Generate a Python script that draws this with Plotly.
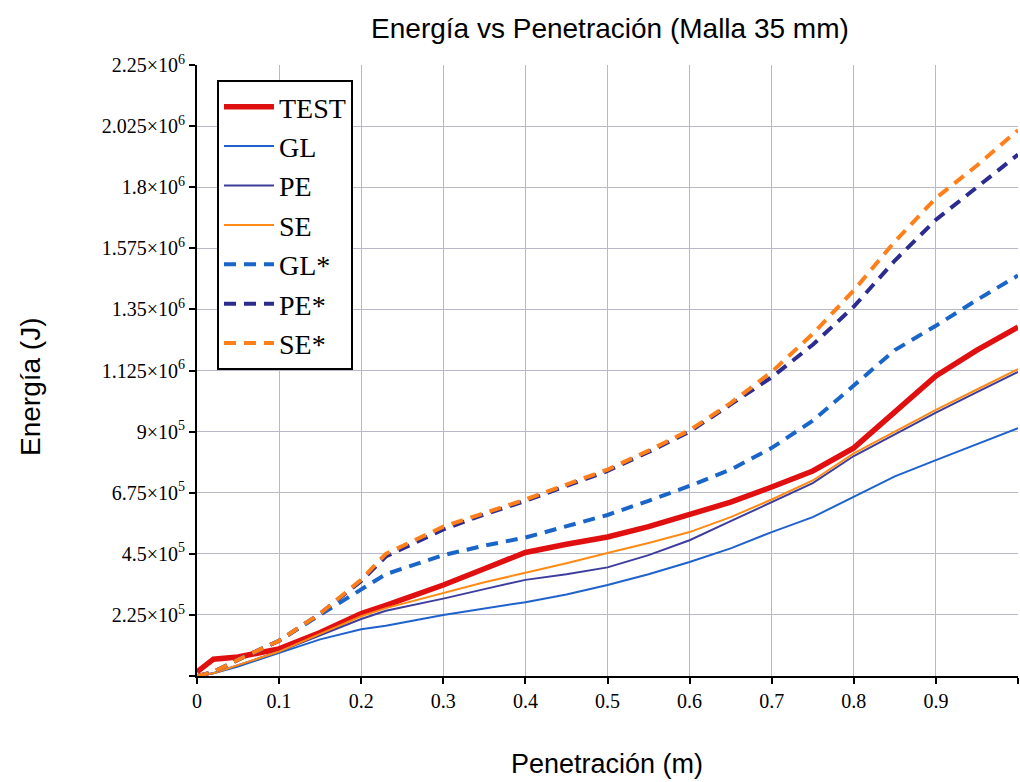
import plotly.graph_objects as go

# Shared penetration values (m)
penetracion = [0, 0.02, 0.05, 0.1, 0.15, 0.2, 0.23, 0.3, 0.35, 0.4, 0.45, 0.5,
               0.55, 0.6, 0.65, 0.7, 0.75, 0.8, 0.85, 0.9, 0.95, 1.0]

# Energy values (J)
test = [1.5e4, 6.2e4, 7.0e4, 1.0e5, 1.6e5, 2.3e5, 2.6e5, 3.35e5, 3.95e5, 4.55e5, 4.85e5, 5.12e5,
        5.5e5, 5.93e5, 6.4e5, 6.96e5, 7.55e5, 8.4e5, 9.75e5, 1.105e6, 1.2e6, 1.285e6]
gl = [0, 1e4, 3.5e4, 8.5e4, 1.35e5, 1.72e5, 1.85e5, 2.25e5, 2.48e5, 2.72e5, 3.0e5, 3.35e5,
      3.75e5, 4.2e5, 4.7e5, 5.3e5, 5.85e5, 6.6e5, 7.35e5, 7.95e5, 8.55e5, 9.13e5]
pe = [0, 1e4, 4e4, 9e4, 1.5e5, 2.1e5, 2.4e5, 2.85e5, 3.2e5, 3.54e5, 3.75e5, 4.0e5,
      4.45e5, 5.0e5, 5.7e5, 6.4e5, 7.1e5, 8.1e5, 8.9e5, 9.7e5, 1.045e6, 1.12e6]
se = [0, 1e4, 4e4, 9e4, 1.55e5, 2.2e5, 2.5e5, 3.05e5, 3.45e5, 3.8e5, 4.15e5, 4.53e5,
      4.9e5, 5.3e5, 5.85e5, 6.5e5, 7.2e5, 8.2e5, 9.0e5, 9.8e5, 1.055e6, 1.13e6]
gl_s = [0, 1.5e4, 6e4, 1.3e5, 2.25e5, 3.2e5, 3.75e5, 4.45e5, 4.8e5, 5.1e5, 5.5e5, 5.93e5,
        6.45e5, 7.0e5, 7.6e5, 8.4e5, 9.4e5, 1.07e6, 1.2e6, 1.29e6, 1.385e6, 1.475e6]
pe_s = [0, 1.5e4, 6e4, 1.3e5, 2.3e5, 3.5e5, 4.4e5, 5.4e5, 5.95e5, 6.45e5, 7.0e5, 7.55e5,
        8.25e5, 9.0e5, 1.0e6, 1.1e6, 1.22e6, 1.36e6, 1.53e6, 1.68e6, 1.8e6, 1.92e6]
se_s = [0, 1.5e4, 6e4, 1.3e5, 2.3e5, 3.55e5, 4.5e5, 5.5e5, 6.0e5, 6.5e5, 7.05e5, 7.6e5,
        8.3e5, 9.05e5, 1.005e6, 1.12e6, 1.26e6, 1.42e6, 1.6e6, 1.76e6, 1.88e6, 2.01e6]

x_tickvals = [0, 0.1, 0.2, 0.3, 0.4, 0.5, 0.6, 0.7, 0.8, 0.9, 1.0]
x_ticktext = ["0", "0.1", "0.2", "0.3", "0.4", "0.5", "0.6", "0.7", "0.8", "0.9", ""]
y_tickvals = [0, 2.25e5, 4.5e5, 6.75e5, 9e5, 1.125e6, 1.35e6, 1.575e6, 1.8e6, 2.025e6, 2.25e6]
y_ticktext = ["", "2.25×10<sup>5</sup>", "4.5×10<sup>5</sup>", "6.75×10<sup>5</sup>",
              "9×10<sup>5</sup>", "1.125×10<sup>6</sup>", "1.35×10<sup>6</sup>",
              "1.575×10<sup>6</sup>", "1.8×10<sup>6</sup>", "2.025×10<sup>6</sup>",
              "2.25×10<sup>6</sup>"]

series = [
    ("TEST", test, "#e01010", 5.5, "solid"),
    ("GL", gl, "#1f62cc", 2, "solid"),
    ("PE", pe, "#3d3d9e", 2, "solid"),
    ("SE", se, "#ff8a14", 2, "solid"),
    ("GL*", gl_s, "#1a66c8", 4, "12px,8px"),
    ("PE*", pe_s, "#2c2c90", 4, "12px,8px"),
    ("SE*", se_s, "#ff7f1a", 4, "12px,8px"),
]

fig = go.Figure()
for name, vals, color, w, dash in series:
    fig.add_trace(go.Scatter(x=penetracion, y=vals, mode="lines", name=name,
                             line=dict(color=color, width=w, dash=dash)))

serif = "Liberation Serif, Times New Roman, serif"
sans = "Liberation Sans, Arial, sans-serif"

fig.update_layout(
    width=1020, height=782,
    margin=dict(l=197, r=2, t=65, b=106),
    paper_bgcolor="white", plot_bgcolor="white",
    title=dict(text="Energía vs Penetración (Malla 35 mm)", x=0.598, xanchor="center",
               y=1 - 28 / 782, yanchor="middle",
               font=dict(family=sans, size=28, color="black")),
    legend=dict(x=(217 - 197) / 821, y=(676 - 80) / 611, xanchor="left", yanchor="top",
                bgcolor="white", bordercolor="black", borderwidth=2,
                font=dict(family=serif, size=28, color="black"),
                itemwidth=50, tracegroupgap=0),
    xaxis=dict(range=[0, 1.0], tickvals=x_tickvals, ticktext=x_ticktext,
               showline=True, linecolor="black", linewidth=2,
               ticks="outside", ticklen=6, tickcolor="black", tickwidth=2,
               showgrid=True, gridcolor="#b8b8c8", gridwidth=1, zeroline=False,
               tickfont=dict(family=serif, size=20, color="black")),
    yaxis=dict(range=[0, 2.25e6], tickvals=y_tickvals, ticktext=y_ticktext,
               showline=True, linecolor="black", linewidth=2,
               ticks="outside", ticklen=6, tickcolor="black", tickwidth=2,
               showgrid=True, gridcolor="#b8b8c8", gridwidth=1, zeroline=False,
               tickfont=dict(family=serif, size=20, color="black")),
    annotations=[
        dict(text="Penetración (m)", xref="paper", yref="paper",
             x=(607 - 197) / 821, y=(676 - 764) / 611, xanchor="center", yanchor="middle",
             showarrow=False, font=dict(family=sans, size=27, color="black")),
        dict(text="Energía (J)", xref="paper", yref="paper",
             x=(30 - 197) / 821, y=(676 - 387) / 611, xanchor="center", yanchor="middle",
             textangle=-90, showarrow=False, font=dict(family=sans, size=28, color="black")),
    ],
)

fig.write_html("out.html")
